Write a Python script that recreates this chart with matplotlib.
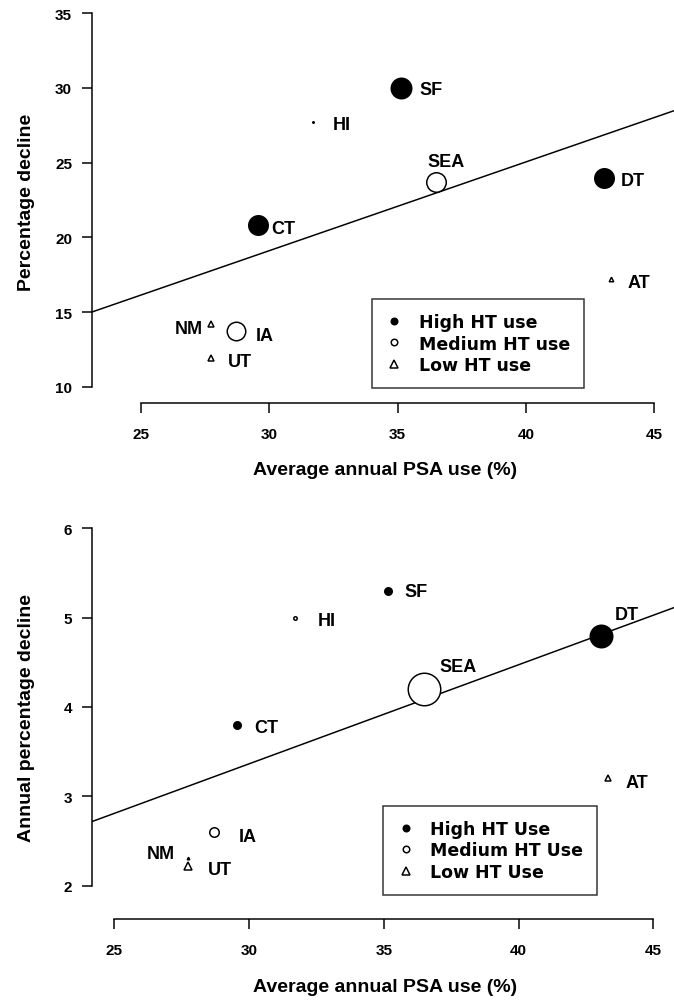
import matplotlib
matplotlib.use('Agg')
import matplotlib.pyplot as plt
from matplotlib.lines import Line2D

plt.rcParams['font.family'] = ['Liberation Sans', 'DejaVu Sans']
plt.rcParams['font.weight'] = 'bold'

# data
sites = ['SF', 'HI', 'SEA', 'DT', 'CT', 'AT', 'NM', 'IA', 'UT']
ht_group = ['high', 'medium', 'medium', 'high', 'high', 'low', 'low', 'medium', 'low']
psa_use = [35.15, 31.7, 36.5, 43.05, 29.55, 43.3, 27.75, 28.7, 27.75]
pct_decline = [30.0, 27.75, 23.7, 24.0, 20.8, 17.25, 14.2, 13.72, 11.97]
annual_decline = [5.3, 5.0, 4.2, 4.8, 3.8, 3.2, 2.31, 2.6, 2.22]
top_weight_px = [22, 3, 21, 21, 21, 6, 7, 20, 8]
bottom_weight_px = [9, 5, 34, 24, 9, 8, 4, 11, 10]
top_fit = (1.29, 0.594)        # intercept, slope
bottom_fit = (0.033, 0.111)
top_yticks = [10, 15, 20, 25, 30, 35]
bottom_yticks = [2, 3, 4, 5, 6]
xticks = [25, 30, 35, 40, 45]

# label offsets in pixels (dx, dy, ha)
top_offsets = {'SF': (18, -2, 'left'), 'HI': (20, -3, 'left'), 'SEA': (10, 21, 'center'),
               'DT': (16, -3, 'left'), 'CT': (14, -3, 'left'), 'AT': (17, -4, 'left'),
               'NM': (-8, -4, 'right'), 'IA': (20, -4, 'left'), 'UT': (17, -4, 'left')}
bottom_offsets = {'SF': (17, -1, 'left'), 'HI': (23, -3, 'left'), 'SEA': (15, 23, 'left'),
                  'DT': (14, 21, 'left'), 'CT': (18, -3, 'left'), 'AT': (18, -4, 'left'),
                  'NM': (-13, 4, 'right'), 'IA': (25, -4, 'left'), 'UT': (20, -3, 'left')}

PX = 0.72  # points per pixel at dpi 100
LW = 1.5 * PX


def marker_style(group, size_px):
    if group == 'high':
        return dict(marker='o', markersize=size_px * PX, markerfacecolor='black',
                    markeredgecolor='black', markeredgewidth=0)
    if group == 'medium':
        return dict(marker='o', markersize=max(size_px * PX - LW, 1), markerfacecolor='white',
                    markeredgecolor='black', markeredgewidth=LW)
    return dict(marker='^', markersize=max(size_px * PX - LW, 1), markerfacecolor='white',
                markeredgecolor='black', markeredgewidth=LW)


def draw_panel(ax, yvals, sizes, fit, offsets, xlim, ylim, yticks, ylabel, leg_labels,
               leg_anchor, ylabel_y, xlabel_y):
    ax.set_xlim(xlim)
    ax.set_ylim(ylim)
    x0, x1 = xlim
    ax.plot([x0, x1], [fit[0] + fit[1] * x0, fit[0] + fit[1] * x1], color='black', lw=LW)

    for s, g, x, y, sz in zip(sites, ht_group, psa_use, yvals, sizes):
        ax.plot([x], [y], linestyle='none', **marker_style(g, sz))
        dx, dy, ha = offsets[s]
        ax.annotate(s, (x, y), xytext=(dx * PX, dy * PX), textcoords='offset points',
                    ha=ha, va='center', fontsize=13, fontweight='bold')

    for side in ['top', 'right']:
        ax.spines[side].set_visible(False)
    ax.spines['left'].set_bounds(yticks[0], yticks[-1])
    ax.spines['bottom'].set_bounds(xticks[0], xticks[-1])
    for side in ['left', 'bottom']:
        ax.spines[side].set_linewidth(LW)
    ax.set_xticks(xticks)
    ax.set_yticks(yticks)
    ax.tick_params(axis='both', direction='out', length=7, width=LW, labelsize=11)
    ax.tick_params(axis='x', pad=10)
    ax.tick_params(axis='y', pad=7)
    for lab in ax.get_xticklabels() + ax.get_yticklabels():
        lab.set_fontweight('bold')

    ax.set_ylabel(ylabel, fontsize=14, fontweight='bold')
    ax.yaxis.set_label_coords(-0.097, ylabel_y)
    ax.set_xlabel('Average annual PSA use (%)', fontsize=14, fontweight='bold')
    ax.xaxis.set_label_coords(0.504, xlabel_y)

    handles = [Line2D([], [], linestyle='none', **marker_style('high', 8)),
               Line2D([], [], linestyle='none', **marker_style('medium', 8)),
               Line2D([], [], linestyle='none', **marker_style('low', 10))]
    leg = ax.legend(handles, leg_labels, loc='upper left', bbox_to_anchor=leg_anchor,
                    borderaxespad=0, frameon=True, fancybox=False,
                    handlelength=1.0, handletextpad=0.9, labelspacing=0.2,
                    borderpad=0.8,
                    prop={'family': 'DejaVu Sans', 'weight': 'bold', 'size': 12.5})
    leg.get_frame().set_edgecolor('black')
    leg.get_frame().set_linewidth(LW)


fig = plt.figure(figsize=(6.74, 10.03), dpi=100)

ax1 = fig.add_axes([91.6 / 674, 1 - 404 / 1003, 582.4 / 674, 404 / 1003])
draw_panel(ax1, pct_decline, top_weight_px, top_fit, top_offsets,
           (23.09, 45.76), (8.93, 35.94), top_yticks, 'Percentage decline',
           ['High HT use', 'Medium HT use', 'Low HT use'], (0.481, 0.257),
           0.5, -0.1436)

ax2 = fig.add_axes([91.6 / 674, 1 - 920 / 1003, 582.4 / 674, 430 / 1003])
draw_panel(ax2, annual_decline, bottom_weight_px, bottom_fit, bottom_offsets,
           (24.17, 45.76), (1.627, 6.44), bottom_yticks, 'Annual percentage decline',
           ['High HT Use', 'Medium HT Use', 'Low HT Use'], (0.501, 0.263),
           0.47, -0.137)

fig.savefig('out.png', dpi=100)
